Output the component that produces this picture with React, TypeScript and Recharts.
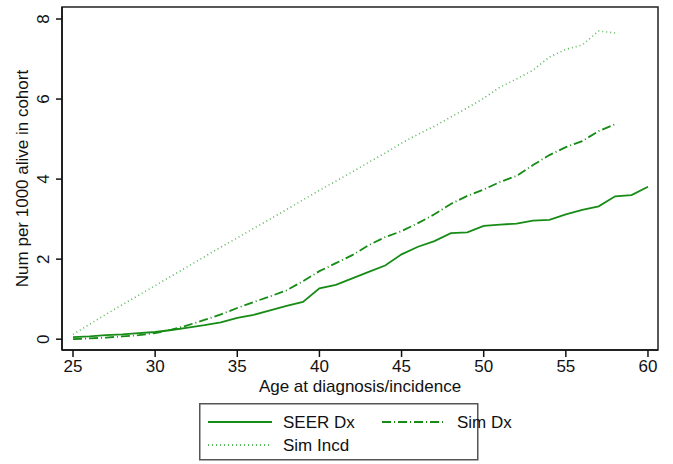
import { LineChart, Line, XAxis, YAxis, ReferenceArea } from "recharts";

const FONT = "'Liberation Sans', Arial, Helvetica, sans-serif";

const ages = [
  25, 26, 27, 28, 29, 30, 31, 32, 33, 34, 35, 36, 37, 38, 39, 40, 41, 42,
  43, 44, 45, 46, 47, 48, 49, 50, 51, 52, 53, 54, 55, 56, 57, 58, 59, 60,
];

// SEER diagnosed, ages 25-60
const seerDx = [
  0.05, 0.07, 0.1, 0.12, 0.15, 0.18, 0.23, 0.29, 0.35, 0.42, 0.53, 0.61,
  0.72, 0.83, 0.93, 1.27, 1.36, 1.52, 1.68, 1.84, 2.12, 2.31, 2.45, 2.65,
  2.67, 2.83, 2.86, 2.89, 2.96, 2.98, 3.12, 3.23, 3.32, 3.57, 3.6, 3.81,
];

// simulated diagnosed, ages 25-58
const simDx = [
  0.0, 0.02, 0.04, 0.07, 0.1, 0.15, 0.24, 0.35, 0.48, 0.62, 0.78, 0.93,
  1.07, 1.22, 1.45, 1.7, 1.9, 2.1, 2.35, 2.55, 2.7, 2.9, 3.12, 3.38, 3.58,
  3.74, 3.93, 4.08, 4.35, 4.6, 4.8, 4.95, 5.2, 5.37,
];

// simulated incidence, ages 25-58
const simIncd = [
  0.12, 0.37, 0.62, 0.86, 1.1, 1.34, 1.58, 1.82, 2.06, 2.3, 2.53, 2.77, 3.0,
  3.24, 3.48, 3.72, 3.95, 4.18, 4.42, 4.65, 4.9, 5.12, 5.32, 5.55, 5.78,
  6.02, 6.3, 6.5, 6.72, 7.05, 7.24, 7.35, 7.7, 7.65,
];

const xTicks = [25, 30, 35, 40, 45, 50, 55, 60];
const yTicks = [0, 2, 4, 6, 8];
const xDomain = [24.33, 60.61];
const yDomain = [-0.27, 8.3];

const rows = ages.map((age, i) => ({
  age,
  seerDx: seerDx[i],
  simDx: simDx[i],
  simIncd: simIncd[i],
}));

const GREEN = "#168c16";
const LIGHT_GREEN = "#5cb85c";
const FS = 17;

function YTick(props: any) {
  const { x, y, payload } = props;
  return (
    <text
      x={x - 5}
      y={y}
      transform={`rotate(-90, ${x - 5}, ${y})`}
      textAnchor="middle"
      fontSize={FS}
      fontFamily={FONT}
      fill="#111"
    >
      {payload.value}
    </text>
  );
}

function LegendBox() {
  const item = (dash: string | undefined, color: string, label: string, x: number, y: number) => (
    <g>
      <line x1={x} y1={y} x2={x + 64} y2={y} stroke={color} strokeWidth={1.8} strokeDasharray={dash} />
      <text x={x + 75} y={y + 6} fontSize={FS} fontFamily={FONT} fill="#111">
        {label}
      </text>
    </g>
  );
  return (
    <svg
      width={280}
      height={58}
      style={{ position: "absolute", left: 199, top: 403, overflow: "visible" }}
    >
      <rect x={0.75} y={0.75} width={278} height={56} fill="#fff" stroke="#555" strokeWidth={1.5} />
      {item(undefined, GREEN, "SEER Dx", 9, 19)}
      {item("9 3 1 3", GREEN, "Sim Dx", 183, 19)}
      {item("1 3", LIGHT_GREEN, "Sim Incd", 9, 42)}
    </svg>
  );
}

export default function App() {
  return (
    <div style={{ position: "absolute", left: 0, top: 0, width: 673, height: 464, background: "#fff" }}>
      <LineChart
        width={673}
        height={464}
        data={rows}
        margin={{ top: 7, right: 15, bottom: 74, left: 0 }}
      >
        <ReferenceArea
          x1={xDomain[0]}
          x2={xDomain[1]}
          y1={yDomain[0]}
          y2={yDomain[1]}
          fill="none"
          stroke="#222"
          strokeWidth={1.5}
          ifOverflow="visible"
        />
        <XAxis
          dataKey="age"
          type="number"
          domain={xDomain}
          ticks={xTicks}
          allowDataOverflow
          height={40}
          tickSize={7}
          tickMargin={3}
          stroke="#111"
          strokeWidth={1.5}
          tick={{ fontSize: FS, fontFamily: FONT, fill: "#111" }}
          label={{
            value: "Age at diagnosis/incidence",
            position: "insideBottom",
            offset: 0,
            dy: 2,
            fontSize: FS,
            fontFamily: FONT,
            fill: "#111",
          }}
        />
        <YAxis
          type="number"
          domain={yDomain}
          ticks={yTicks}
          allowDataOverflow
          width={62}
          tickSize={6}
          tickMargin={2}
          stroke="#111"
          strokeWidth={1.5}
          tick={<YTick />}
          label={{
            value: "Num per 1000 alive in cohort",
            angle: -90,
            position: "insideLeft",
            offset: 0,
            dx: 22,
            style: { textAnchor: "middle" },
            fontSize: FS,
            fontFamily: FONT,
            fill: "#111",
          }}
        />
        <Line
          dataKey="simIncd"
          stroke={LIGHT_GREEN}
          strokeWidth={1.6}
          strokeDasharray="1 3"
          dot={false}
          isAnimationActive={false}
        />
        <Line
          dataKey="simDx"
          stroke={GREEN}
          strokeWidth={1.8}
          strokeDasharray="9 3 1 3"
          dot={false}
          isAnimationActive={false}
        />
        <Line
          dataKey="seerDx"
          stroke={GREEN}
          strokeWidth={1.8}
          dot={false}
          isAnimationActive={false}
        />
      </LineChart>
      <LegendBox />
    </div>
  );
}
